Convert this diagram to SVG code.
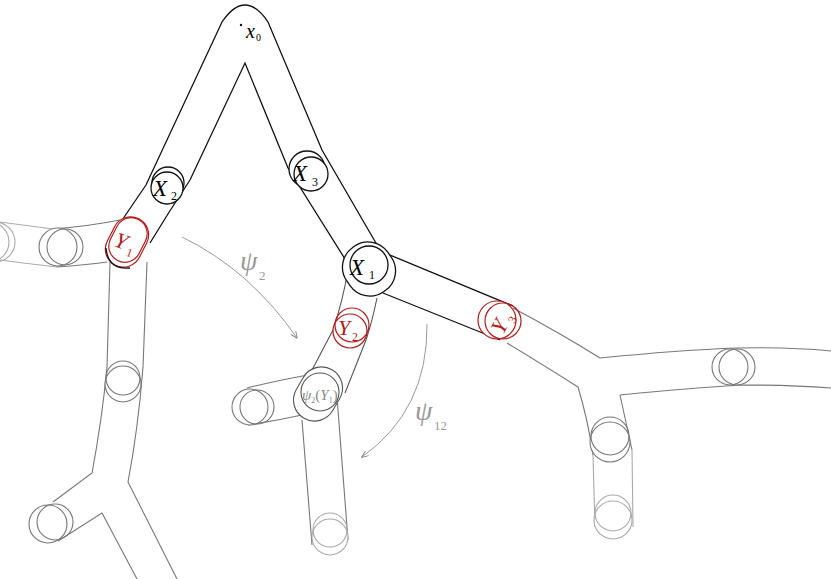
<svg xmlns="http://www.w3.org/2000/svg" width="831" height="579" viewBox="0 0 831 579">
<defs>
<marker id="ah" viewBox="0 0 10 10" refX="9" refY="5" markerWidth="7" markerHeight="7" orient="auto"><path d="M0,1 L10,5 L0,9" fill="none" stroke="#888" stroke-width="1.4"/></marker>
<style>
.k{fill:none;stroke:#111;stroke-width:1.3}
.d{fill:none;stroke:#555;stroke-width:1.1}
.g{fill:none;stroke:#777;stroke-width:1.1}
.l{fill:none;stroke:#aaa;stroke-width:1.1}
.r{fill:none;stroke:#b01c1c;stroke-width:1.2}
.w{fill:#fff}
.t{font-family:"Liberation Serif",serif;font-style:italic}
.s{font-family:"Liberation Serif",serif}
.a{fill:none;stroke:#999;stroke-width:1}
</style>
</defs>
<rect width="831" height="579" fill="#fff"/>
<g id="tubes">
<path class="l" d="M0,222 Q30,226 53,229 M0,260 Q30,264 57,267"/>
<circle class="l" cx="-5" cy="242" r="20"/><circle class="l" cx="-11" cy="242" r="20"/>
<path class="g" d="M53,229 Q90,226 120,220 M57,267 Q85,265 107,262"/>
<path class="g" d="M110,262 L107,367 Q102,420 92,473 L53,502 M147,262 L143,367 Q138,430 128,482 L177,579 M58,541 L102,513 L137,579"/>
<path class="g" d="M308,375 Q275,381 247,388 M302,415 Q275,421 248,425 M302,420 L312,545 M337,397 L348,540"/>
<path class="d" d="M348,270 Q343,300 333,330 L312,370 M377,298 Q372,322 366,340 L345,393"/>
<path class="g" d="M513,308 Q560,333 600,358 Q680,350 737,348 Q790,347 831,351 M507,343 Q545,366 578,387 Q588,420 593,455 M620,395 Q690,388 743,385 Q790,385 831,388 M620,395 L632,450"/>
<path class="l" d="M593,455 L595,527 M632,450 L633,527"/>
<path class="k" d="M107,244 Q125,215 146,185 L222,22 Q245,-12 268,22 L322,150 L380,250 M150,243 Q170,210 190,180 L245,63 L288,168 L350,267 M385,253 L513,306 M383,293 L500,340"/>
</g>
<g id="connectors">
<path class="a" d="M182,237 Q250,270 297,338" marker-end="url(#ah)"/>
<path class="a" d="M427,324 Q428,410 362,457" marker-end="url(#ah)"/>
</g>
<g id="n-x0"><circle cx="241" cy="25" r="1.2" fill="#111"/><text class="t" x="246" y="38" font-size="20">x</text><text class="s" x="256" y="41" font-size="10">0</text></g>
<g id="n-x2"><circle class="k w" cx="168" cy="183" r="16"/><circle class="k w" cx="167" cy="188" r="16"/><text class="t" x="153" y="196" font-size="23">X</text><text class="s" x="171" y="200" font-size="12">2</text></g>
<g id="n-x3"><circle class="k w" cx="307" cy="169" r="18"/><circle class="k w" cx="311" cy="174" r="17"/><text class="t" x="293" y="181" font-size="23">X</text><text class="s" x="312" y="186" font-size="12">3</text></g>
<g id="n-x1"><rect class="k w" x="344" y="242" width="50" height="54" rx="24" transform="rotate(-35 369 269)"/><circle class="k" cx="369" cy="265" r="19"/><text class="t" x="350" y="275" font-size="23">X</text><text class="s" x="369" y="279" font-size="12">1</text></g>
<g id="n-y1"><rect class="r w" x="109" y="216" width="36" height="52" rx="18" transform="rotate(27 127 242)"/><rect class="r" x="112" y="217" width="32" height="46" rx="16" transform="rotate(27 128 240)"/><path class="k" d="M106,248 Q108,270 130,268"/><g transform="rotate(20 126 242)"><text class="t" x="115" y="250" font-size="22" fill="#b01c1c">Y</text><text class="s" x="130" y="255" font-size="12" fill="#b01c1c">1</text></g></g>
<g id="n-y2"><circle class="r w" cx="350" cy="331" r="17"/><circle class="r" cx="352" cy="325" r="17"/><text class="t" x="338" y="335" font-size="22" fill="#b01c1c">Y</text><text class="s" x="352" y="341" font-size="12" fill="#b01c1c">2</text></g>
<g id="n-y3"><circle class="r w" cx="497" cy="320" r="19"/><circle class="r" cx="503" cy="321" r="18"/><g transform="rotate(-62 502 320)"><text class="t" x="489" y="328" font-size="22" fill="#b01c1c">Y</text><text class="s" x="504" y="333" font-size="12" fill="#b01c1c">3</text></g></g>
<g id="n-l1"><circle class="g w" cx="58" cy="247" r="19"/><circle class="g" cx="65" cy="247" r="18"/></g>
<g id="n-l2"><circle class="g w" cx="123" cy="384" r="18"/><circle class="g" cx="123" cy="378" r="17"/></g>
<g id="n-l3"><circle class="g w" cx="48" cy="524" r="19"/><circle class="g" cx="55" cy="522" r="18"/></g>
<g id="n-m1"><rect class="d w" x="297" y="366" width="42" height="56" rx="21" transform="rotate(30 318 394)"/><circle class="d" cx="320" cy="392" r="19"/><text x="302" y="400" fill="#888"><tspan class="t" font-size="15">ψ</tspan><tspan class="s" font-size="8" dy="3">2</tspan><tspan class="s" font-size="15" dy="-3">(</tspan><tspan class="t" font-size="15">Y</tspan><tspan class="s" font-size="8" dy="3">1</tspan><tspan class="s" font-size="15" dy="-3">)</tspan></text></g>
<g id="n-m2"><circle class="g w" cx="250" cy="407" r="18"/><circle class="g" cx="257" cy="407" r="17"/></g>
<g id="n-m3"><circle class="l w" cx="330" cy="537" r="18"/><circle class="l" cx="330" cy="530" r="17"/></g>
<g id="n-r1"><circle class="g w" cx="730" cy="367" r="18"/><circle class="g" cx="737" cy="367" r="18"/></g>
<g id="n-r2"><circle class="g w" cx="610" cy="442" r="20"/><circle class="g" cx="610" cy="436" r="19"/></g>
<g id="n-r3"><circle class="l w" cx="613" cy="520" r="19"/><circle class="l" cx="613" cy="513" r="18"/></g>
<g id="labels">
<text class="t" x="240" y="270" font-size="28" fill="#999">ψ</text><text class="s" x="259" y="280" font-size="13" fill="#999">2</text>
<text class="t" x="415" y="420" font-size="28" fill="#999">ψ</text><text class="s" x="434" y="430" font-size="13" fill="#999">12</text>
</g>
</svg>
